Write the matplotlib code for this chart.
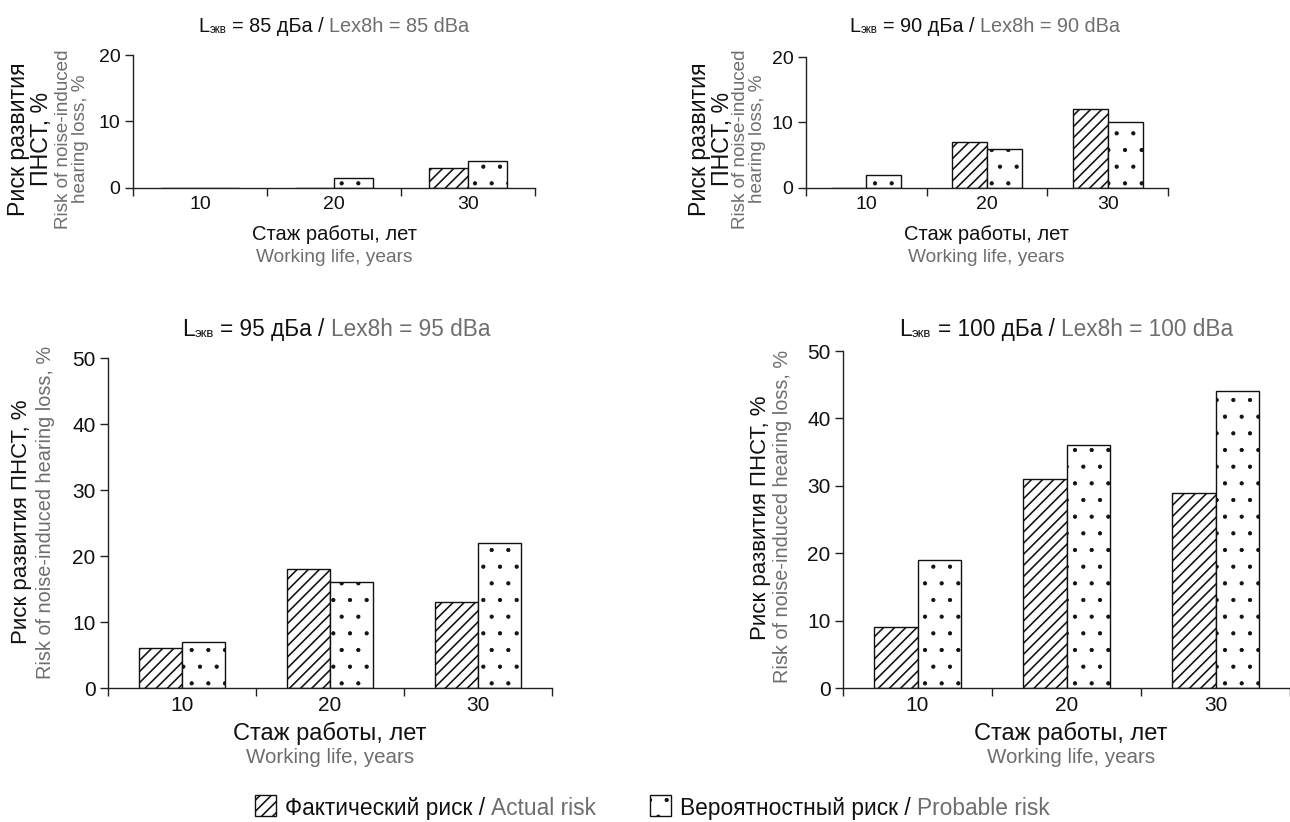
import matplotlib
matplotlib.use('Agg')
import matplotlib.pyplot as plt
from matplotlib.patches import Rectangle
import numpy as np

plt.rcParams['font.family'] = ['Liberation Sans', 'DejaVu Sans']
plt.rcParams['hatch.linewidth'] = 1.0

W, H = 1290, 822
BLACK = '#111111'
GREY = '#6e6e6e'

# ---------------- data ----------------
categories = ['10', '20', '30']
levels = ['85', '90', '95', '100']
actual_85 = [0, 0, 3]
probable_85 = [0, 1.5, 4]
actual_90 = [0, 7, 12]
probable_90 = [2, 6, 10]
actual_95 = [6, 18, 13]
probable_95 = [7, 16, 22]
actual_100 = [9, 31, 29]
probable_100 = [19, 36, 44]
y_ticks_top = [0, 10, 20]
y_ticks_bottom = [0, 10, 20, 30, 40, 50]

ru_ylabel_2 = 'Риск развития\nПНСТ, %'
en_ylabel_2 = 'Risk of noise-induced\nhearing loss, %'
ru_ylabel_1 = 'Риск развития ПНСТ, %'
en_ylabel_1 = 'Risk of noise-induced hearing loss, %'
ru_xlabel = 'Стаж работы, лет'
en_xlabel = 'Working life, years'
legend_ru = ['Фактический риск /', 'Вероятностный риск /']
legend_en = ['Actual risk', 'Probable risk']

fig = plt.figure(figsize=(W / 100, H / 100), dpi=100)
renderer = fig.canvas.get_renderer()


def text_width(s, size):
    t = fig.text(0, 0, s, fontsize=size)
    w = t.get_window_extent(renderer=renderer).width
    t.remove()
    return w


def space_w(size):
    return text_width('a a', size) - text_width('aa', size)


def runs_text(x_px, base_px, runs, center=True):
    # runs: (text, color, size, dy_px, gap_after_px)
    arts = []
    total = 0
    for s, color, size, dy, gap in runs:
        t = fig.text(0, 0, s, color=color, fontsize=size, ha='left', va='baseline')
        w = t.get_window_extent(renderer=renderer).width
        arts.append((t, w, dy, gap))
        total += w + gap
    x = x_px - total / 2 if center else x_px
    for t, w, dy, gap in arts:
        t.set_position((x / W, 1 - (base_px + dy) / H))
        x += w + gap


def fx(px):
    return px / W


def fy(px):
    return 1 - px / H


def set_hlw(artists, lw):
    for a in artists:
        if hasattr(a, 'set_hatch_linewidth'):
            a.set_hatch_linewidth(lw)


panels = [
    dict(actual=actual_85, probable=probable_85, level=levels[0], ymax=20, yt=y_ticks_top,
         box=(133, 55, 535, 188), xmax=2.5, tick_fs=14, title_fs=14.3, xl_fs=14.5, xl_en_fs=13.8,
         title_x=334, title_base=32, xl_x=334, xl_base=(240, 262),
         yl_ru=(30, 139), yl_en=(72, 139), yl_ru_fs=16.7, yl_en_fs=13.6, two=True),
    dict(actual=actual_90, probable=probable_90, level=levels[1], ymax=20, yt=y_ticks_top,
         box=(806, 57, 1168, 188), xmax=2.5, tick_fs=14, title_fs=14.3, xl_fs=14.5, xl_en_fs=13.8,
         title_x=985, title_base=32, xl_x=986, xl_base=(240, 262),
         yl_ru=(711, 139), yl_en=(749, 139), yl_ru_fs=16.7, yl_en_fs=13.6, two=True),
    dict(actual=actual_95, probable=probable_95, level=levels[2], ymax=50, yt=y_ticks_bottom,
         box=(108, 358, 552, 688), xmax=2.5, tick_fs=15, title_fs=16.3, xl_fs=17, xl_en_fs=14.8,
         title_x=336, title_base=336, xl_x=330, xl_base=(740, 763),
         yl_ru=(22, 522), yl_en=(46, 512), yl_ru_fs=16, yl_en_fs=14.3, two=False),
    dict(actual=actual_100, probable=probable_100, level=levels[3], ymax=50, yt=y_ticks_bottom,
         box=(843, 351, 1290, 688), xmax=2.46, tick_fs=15, title_fs=16.3, xl_fs=17, xl_en_fs=14.8,
         title_x=1066, title_base=336, xl_x=1071, xl_base=(740, 763),
         yl_ru=(760, 518), yl_en=(783, 516), yl_ru_fs=16, yl_en_fs=14.3, two=False),
]

bw = 0.29
x = np.arange(len(categories))

for p in panels:
    l, t, r, b = p['box']
    ax = fig.add_axes([fx(l), fy(b), (r - l) / W, (b - t) / H])
    plt.rcParams['hatch.linewidth'] = 1.15
    b1 = ax.bar(x - bw / 2, p['actual'], bw, facecolor='white', edgecolor=BLACK,
                linewidth=1.0, hatch='///', zorder=2)
    set_hlw(b1, 1.15)
    plt.rcParams['hatch.linewidth'] = 0.6
    b2 = ax.bar(x + bw / 2, p['probable'], bw, facecolor='white', edgecolor=BLACK,
                linewidth=1.0, hatch='.', zorder=2)
    set_hlw(b2, 0.6)
    ax.set_xlim(-0.5, p['xmax'])
    ax.set_ylim(0, p['ymax'])
    for s in ['top', 'right']:
        ax.spines[s].set_visible(False)
    for s in ['left', 'bottom']:
        ax.spines[s].set_linewidth(1.0)
        ax.spines[s].set_color('#222222')
    ax.set_yticks(p['yt'])
    ax.set_xticks(x)
    ax.set_xticklabels(categories)
    ax.set_xticks([-0.5, 0.5, 1.5, 2.5], minor=True)
    ax.tick_params(axis='x', which='major', length=0, pad=6, labelsize=p['tick_fs'],
                   labelcolor=BLACK)
    ax.tick_params(axis='x', which='minor', length=6, width=1.0, direction='out',
                   color='#222222')
    ax.tick_params(axis='y', length=6, width=1.0, direction='out', pad=3,
                   labelsize=p['tick_fs'], labelcolor=BLACK, color='#222222')
    ax.patch.set_alpha(0)

    # title with subscript and two colours
    fs = p['title_fs']
    sp = space_w(fs)
    runs_text(p['title_x'], p['title_base'],
              [('L', BLACK, fs, 0, 0.5),
               ('экв', BLACK, fs * 0.58, 1, sp),
               ('= ' + p['level'] + ' дБа /', BLACK, fs, 0, sp),
               ('Lex8h = ' + p['level'] + ' dBa', GREY, fs, 0, 0)])

    # x labels
    fig.text(fx(p['xl_x']), fy(p['xl_base'][0]), ru_xlabel, color=BLACK,
             fontsize=p['xl_fs'], ha='center', va='baseline')
    fig.text(fx(p['xl_x']), fy(p['xl_base'][1]), en_xlabel, color=GREY,
             fontsize=p['xl_en_fs'], ha='center', va='baseline')

    # y labels
    ru = ru_ylabel_2 if p['two'] else ru_ylabel_1
    en = en_ylabel_2 if p['two'] else en_ylabel_1
    fig.text(fx(p['yl_ru'][0]), fy(p['yl_ru'][1]), ru, color=BLACK, rotation=90,
             fontsize=p['yl_ru_fs'], ha='center', va='center', linespacing=1.0,
             multialignment='center')
    fig.text(fx(p['yl_en'][0]), fy(p['yl_en'][1]), en, color=GREY, rotation=90,
             fontsize=p['yl_en_fs'], ha='center', va='center', linespacing=1.0,
             multialignment='center')

# ---------------- legend ----------------
leg_fs = 16.4
leg_base = 815
box_h = 21
sp = space_w(leg_fs)
for i, (hatch, px, hlw) in enumerate([('///', 255, 1.15), ('.', 650, 0.6)]):
    plt.rcParams['hatch.linewidth'] = hlw
    rect = Rectangle((fx(px), fy(leg_base + 1)), box_h / W, box_h / H,
                     transform=fig.transFigure, facecolor='white', edgecolor=BLACK,
                     linewidth=1.0, hatch=hatch)
    set_hlw([rect], hlw)
    fig.add_artist(rect)
    runs_text(px + box_h + 9, leg_base,
              [(legend_ru[i], BLACK, leg_fs, 0, sp),
               (legend_en[i], GREY, leg_fs, 0, 0)], center=False)

fig.savefig('out.png', dpi=100, facecolor='white')
